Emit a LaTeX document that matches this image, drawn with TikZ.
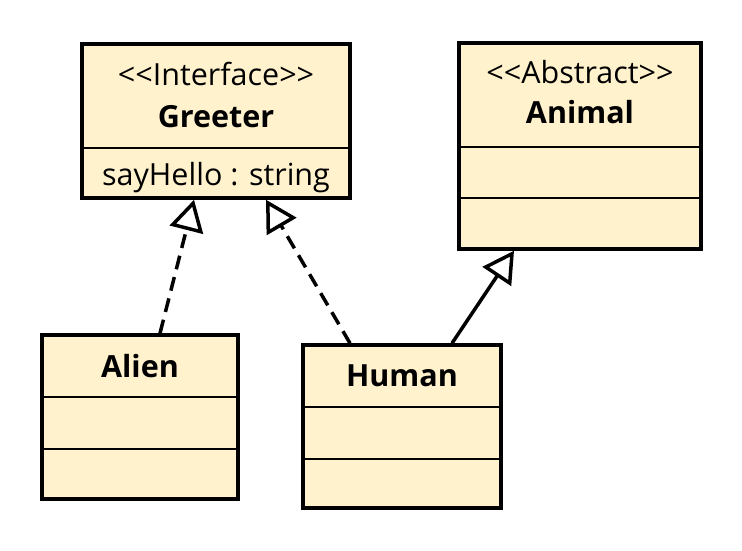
\documentclass[tikz,border=0pt]{standalone}
\usepackage{fontspec}
\setmainfont{Open Sans}
\usetikzlibrary{arrows.meta,calc}
\definecolor{classfill}{HTML}{FFF2CC}
\tikzset{
  classbox/.style={draw=black, fill=classfill, line width=3.5pt, inner sep=0pt, outer sep=0pt},
  sep/.style={draw=black, line width=1.6pt},
  lbl/.style={anchor=base, inner sep=0pt, font=\fontsize{30.5}{36}\selectfont},
  blbl/.style={lbl, font=\fontsize{30.5}{36}\selectfont\bfseries},
  tip/.style={-{Triangle[fill=white, length=31pt, width=34pt, line width=3.5pt]}},
  realize/.style={line width=3.5pt, dash pattern=on 14pt off 8pt, tip},
  inherit/.style={line width=3.5pt, tip}
}
\begin{document}
\begin{tikzpicture}[x=1pt,y=1pt]
\useasboundingbox (0,0) rectangle (742,-550);
% Greeter
\node[classbox, minimum width=268pt, minimum height=154pt] (greeter) at (216,-121) {};
\draw[sep] (greeter.west |- 0,-148) -- (greeter.east |- 0,-148);
\node[lbl] (greeterst) at (216,-85) {{<}{<}Interface{>}{>}};
\node[blbl] (greetername) at (216,-127) {Greeter};
\node[lbl] (greeterattr) at (216,-185) {sayHello : string};
% Animal
\node[classbox, minimum width=242pt, minimum height=206pt] (animal) at (580,-146) {};
\draw[sep] (animal.west |- 0,-147) -- (animal.east |- 0,-147);
\draw[sep] (animal.west |- 0,-198) -- (animal.east |- 0,-198);
\node[lbl] (animalst) at (580,-83) {{<}{<}Abstract{>}{>}};
\node[blbl] (animalname) at (580,-123) {Animal};
% Alien
\node[classbox, minimum width=196pt, minimum height=164pt] (alien) at (140,-417) {};
\draw[sep] (alien.west |- 0,-397) -- (alien.east |- 0,-397);
\draw[sep] (alien.west |- 0,-449) -- (alien.east |- 0,-449);
\node[blbl] (alienname) at (140,-377) {Alien};
% Human
\node[classbox, minimum width=198pt, minimum height=163pt] (human) at (402,-426.5) {};
\draw[sep] (human.west |- 0,-407) -- (human.east |- 0,-407);
\draw[sep] (human.west |- 0,-459) -- (human.east |- 0,-459);
\node[blbl] (humanname) at (402,-386) {Human};
% connectors
\draw[realize] ($(alien.north)+(20,1.75)$) -- ($(greeter.south)+(-22,-1.75)$);
\draw[realize] ($(human.north)+(-52,1.75)$) -- ($(greeter.south)+(50,-1.75)$);
\draw[inherit] ($(human.north)+(50,1.75)$) -- ($(animal.south)+(-66,-1.75)$);
\end{tikzpicture}
\end{document}
